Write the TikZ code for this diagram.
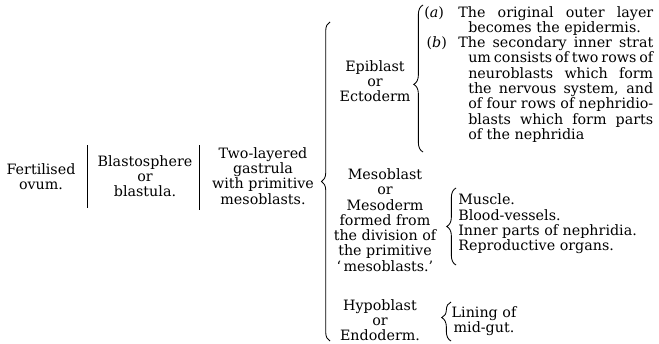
\documentclass[tikz,border=0pt]{standalone}
\usepackage{fontspec}
\setmainfont{DejaVu Serif}
\usetikzlibrary{decorations.pathreplacing}

\begin{document}
\begin{tikzpicture}[x=0.7pt,y=-0.7pt,
  every node/.style={font=\fontsize{10}{10.7}\selectfont,inner sep=0pt},
  stage/.style={align=center},
  sep/.style={line width=0.7pt},
  brc/.style={decorate,decoration={brace,amplitude=6.5pt},line width=0.6pt},
  notes/.style={align=left,anchor=west}]
\useasboundingbox (0,0) rectangle (659,343);

% the three early stages
\node[stage] (ovum)  at (41,177)  {Fertilised\\ovum.};
\node[stage] (blast) at (145,176) {Blastosphere\\or\\blastula.};
\node[stage] (gast)  at (263,176) {Two-layered\\gastrula\\with primitive\\mesoblasts.};

\draw[sep] (87,145) -- (87,208);
\draw[sep] (199,145) -- (199,210);

% the three layers
\node[stage] (epi)  at (375,81)  {Epiblast\\or\\Ectoderm};
\node[stage] (meso) at (385,220) {Mesoblast\\or\\Mesoderm\\formed from\\the division of\\the primitive\\`\,mesoblasts.'};
\node[stage] (hypo) at (380,320) {Hypoblast\\or\\Endoderm.};

\coordinate (gtop) at (330,22);
\coordinate (gbot) at (330,341);
\draw[brc,decoration={amplitude=6pt}] (gbot) -- (gtop);

% what each layer gives
\node[anchor=north west,text width=160.3pt,align=justify] (epinotes) at (424,6)
  {{\hangindent=30.8pt\hangafter=1\noindent\makebox[23.8pt][l]{(\textit{a})}The original outer layer\linebreak becomes the epidermis.\par}
   {\hangindent=30.8pt\hangafter=1\noindent\makebox[23.8pt][l]{\,(\textit{b})}{\spaceskip=0.15em plus 1em The secondary inner strat\linebreak um consists of two rows of\linebreak} neuroblasts which form\linebreak the nervous system, and\linebreak of four rows of nephridio-\linebreak blasts which form parts\linebreak of the nephridia\par}};
\node[notes] (mesonotes) at (458,224) {Muscle.\\Blood-vessels.\\Inner parts of nephridia.\\Reproductive organs.};
\node[stage] (hyponotes) at (484,321) {Lining of\\mid-gut.};

\coordinate (etop) at (423,5);
\coordinate (ebot) at (423,152);
\draw[brc,decoration={aspect=0.46}] (ebot) -- (etop);
\coordinate (mtop) at (456,188);
\coordinate (mbot) at (456,265);
\draw[brc] (mbot) -- (mtop);
\coordinate (htop) at (451,302);
\coordinate (hbot) at (451,341);
\draw[brc,decoration={aspect=0.6}] (hbot) -- (htop);
\end{tikzpicture}
\end{document}
